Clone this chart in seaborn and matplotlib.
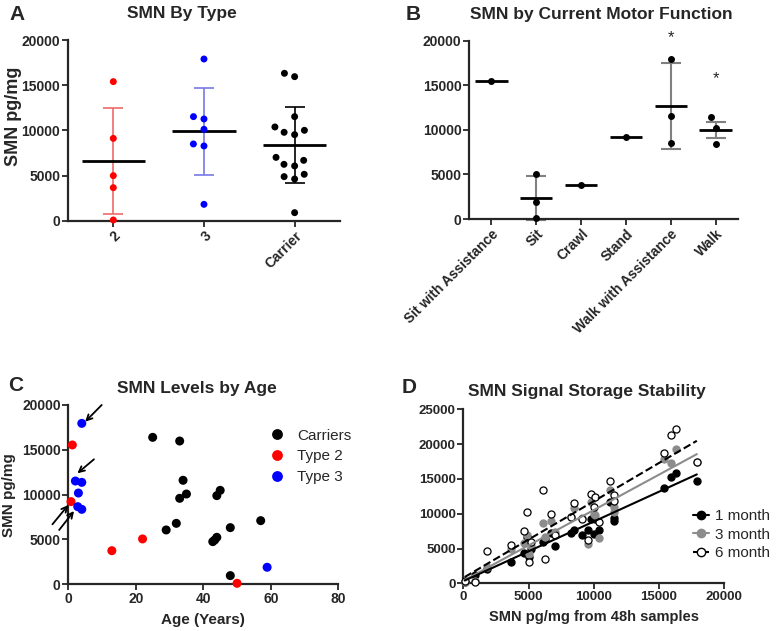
import matplotlib
matplotlib.use('Agg')
import matplotlib.pyplot as plt
import seaborn as sns
import pandas as pd
import numpy as np
from matplotlib.lines import Line2D
from matplotlib.collections import PathCollection

sns.set_style('ticks')
plt.rcParams['font.family'] = ['Liberation Sans', 'DejaVu Sans']
plt.rcParams['font.weight'] = 'bold'
plt.rcParams['axes.labelweight'] = 'bold'

# A: SMN by type
type_labels = ['2', '3', 'Carrier']
type2_smn = [15400, 9130, 5010, 3680, 110]
type3_smn = [17900, 11530, 11270, 10130, 8510, 8290, 1840]
carrier_smn = [16320, 15950, 11530, 10390, 9800, 9540, 10020, 7030, 6700,
               6260, 6080, 4900, 4640, 5160, 920]
type_colors = ['#ff0000', '#0000ff', '#000000']
type_err_colors = ['#ee6a6a', '#7878e8', '#000000']

# B: SMN by current motor function
motor_labels = ['Sit with Assistance', 'Sit', 'Crawl', 'Stand',
                'Walk with Assistance', 'Walk']
motor_smn = [[15500], [5050, 1900, 110], [3780], [9200],
             [17980, 11590, 8560], [11400, 10170, 8410]]
motor_err_kind = ['sd', 'sd', 'sd', 'sd', 'sd', 'sem']
star_groups = ['Walk with Assistance', 'Walk']
star_y = [20400, 15800]

# C: SMN levels by age
carrier_age = [25, 33, 34, 35, 33, 44, 45, 57, 32, 29, 48, 42.8, 44, 43.4, 48]
carrier_age_smn = [16390, 15980, 11600, 10070, 9590, 9890, 10480, 7100, 6800,
                   6060, 6320, 4760, 5240, 4950, 970]
type2_age = [1.2, 0.8, 12.9, 22.0, 50.0]
type2_age_smn = [15540, 9220, 3750, 5060, 110]
type3_age = [4.0, 2.1, 4.0, 3.0, 2.8, 4.0, 58.9]
type3_age_smn = [17950, 11520, 11370, 10180, 8660, 8360, 1900]
arrow_tails = [(9.9, 20000), (7.6, 13940), (-4.7, 6690), (-2.7, 6060)]
arrow_tips = [(5.0, 18130), (2.7, 12380), (0.0, 8840), (1.7, 8170)]

# D: storage stability
x48 = [110, 920, 1840, 3680, 4640, 4900, 5010, 5160, 6080, 6260, 6700, 7030,
       8290, 8510, 9130, 9540, 9800, 10020, 10130, 10390, 11270, 11530, 11530,
       15400, 15950, 16320, 17900]
m1 = [150, 1200, 2010, 3110, 4310, 6700, 3830, 4990, 6000, 6300, 7200, 5400,
      7200, 7700, 7000, 7600, 9300, 7100, 9300, 7600, 11700, 9400, 9000,
      13650, 15320, 15900, 14700]
m3 = [250, 400, 2300, 5000, 5800, 6900, 4200, 5300, 8700, 6600, 8900, 7300,
      9500, 10800, 9430, 5650, 11730, 10000, 9800, 6460, 13400, 11000, 10300,
      17810, 17340, 19250, 17400]
m6 = [300, 240, 4690, 5510, 7520, 10300, 3110, 6000, 13400, 3450, 9900, 7000,
      9500, 11500, 9300, 6230, 12830, 11000, 12450, 8860, 14750, 12690, 11800,
      18770, 21310, 22120, 17480]
month_labels = ['1 month', '3 month', '6 month']


def style(ax, size=10):
    sns.despine(ax=ax)
    for s in ['left', 'bottom']:
        ax.spines[s].set_linewidth(1.6)
    ax.tick_params(width=1.3, length=4, pad=1.5, labelsize=size)


def freeze_swarm(ax, dot):
    # keep the swarm layout computed with the wider spacing, draw smaller dots
    for coll in ax.collections:
        if 'draw' in coll.__dict__:
            del coll.draw
        if isinstance(coll, PathCollection):
            coll.set_sizes([dot ** 2])


fig = plt.figure(figsize=(7.76, 6.31), dpi=100)
axA = fig.add_axes([0.0876, 0.6498, 0.3505, 0.2868])
axB = fig.add_axes([0.6044, 0.6529, 0.3466, 0.2826])
axC = fig.add_axes([0.088, 0.074, 0.348, 0.2842])
axD = fig.add_axes([0.597, 0.0756, 0.3363, 0.2757])

# ---- A
dfA = pd.DataFrame({'group': ['2'] * len(type2_smn) + ['3'] * len(type3_smn)
                    + ['Carrier'] * len(carrier_smn),
                    'smn': type2_smn + type3_smn + carrier_smn})
sns.swarmplot(data=dfA, x='group', y='smn', hue='group', order=type_labels,
              palette=type_colors, size=7.4, legend=False, ax=axA,
              clip_on=False, zorder=4)
for i, vals in enumerate([type2_smn, type3_smn, carrier_smn]):
    m, sd = np.mean(vals), np.std(vals, ddof=1)
    axA.errorbar(i, m, yerr=sd, color=type_err_colors[i], capsize=7,
                 lw=1.2, capthick=1.2, zorder=2)
    axA.hlines(m, i - 0.35, i + 0.35, color='black', lw=2, zorder=3)
axA.set_xlim(-0.5, 2.5)
axA.set_ylim(0, 20000)
axA.set_yticks(range(0, 20001, 5000))
axA.set_xlabel('')
axA.set_ylabel('SMN pg/mg', fontsize=13)
axA.yaxis.set_label_coords(-0.17, 0.576)
style(axA)
plt.setp(axA.get_xticklabels(), rotation=45, ha='right', rotation_mode='anchor')

# ---- B
dfB = pd.DataFrame({'group': [g for g, v in zip(motor_labels, motor_smn) for _ in v],
                    'smn': [x for v in motor_smn for x in v]})
sns.swarmplot(data=dfB, x='group', y='smn', order=motor_labels, color='black',
              size=8.6, ax=axB, clip_on=False, zorder=4)
for i, vals in enumerate(motor_smn):
    m = np.mean(vals)
    if len(vals) > 1:
        err = np.std(vals, ddof=1)
        if motor_err_kind[i] == 'sem':
            err = err / np.sqrt(len(vals))
        axB.errorbar(i, m, yerr=err, color='#808080', capsize=7, lw=1.5,
                     capthick=1.5, zorder=2, clip_on=False)
    axB.hlines(m, i - 0.36, i + 0.36, color='black', lw=2, zorder=3)
for g, y in zip(star_groups, star_y):
    axB.text(motor_labels.index(g), y, '*', ha='center', va='center',
             fontsize=12, fontweight='normal', clip_on=False)
axB.set_xlim(-0.5, 5.5)
axB.set_ylim(0, 20000)
axB.set_yticks(range(0, 20001, 5000))
axB.set_xlabel('')
axB.set_ylabel('')
style(axB)
plt.setp(axB.get_xticklabels(), rotation=45, ha='right', rotation_mode='anchor')

# ---- C
dfC = pd.DataFrame({
    'age': carrier_age + type2_age + type3_age,
    'smn': carrier_age_smn + type2_age_smn + type3_age_smn,
    'group': ['Carriers'] * len(carrier_age) + ['Type 2'] * len(type2_age)
             + ['Type 3'] * len(type3_age)})
sns.scatterplot(data=dfC, x='age', y='smn', hue='group',
                hue_order=['Carriers', 'Type 2', 'Type 3'],
                palette=['#000000', '#ff0000', '#0000ff'], s=42,
                edgecolor='none', ax=axC, clip_on=False, zorder=4)
for tail, tip in zip(arrow_tails, arrow_tips):
    axC.annotate('', xy=tip, xytext=tail, annotation_clip=False,
                 arrowprops=dict(arrowstyle='->', color='black', lw=1.3,
                                 shrinkA=0, shrinkB=0))
axC.legend(frameon=False, loc='upper left', bbox_to_anchor=(0.665, 0.945),
           prop={'weight': 'normal', 'size': 11}, handletextpad=0.3,
           labelspacing=0.45, markerscale=1.2)
axC.set_xlim(0, 80)
axC.set_ylim(0, 20000)
axC.set_xticks(range(0, 81, 20))
axC.set_yticks(range(0, 20001, 5000))
axC.set_xlabel('Age (Years)', fontsize=11, labelpad=5)
axC.set_ylabel('SMN pg/mg', fontsize=11)
style(axC)

# ---- D
series = [m1, m3, m6]
face = ['black', '#8c8c8c', 'white']
edge = ['black', '#8c8c8c', 'black']
line_col = ['black', '#8c8c8c', 'black']
line_ls = ['-', '-', '--']
for k in [1, 0, 2]:
    sns.regplot(x=np.array(x48), y=np.array(series[k]), ci=None, ax=axD,
                scatter_kws=dict(s=26, color=edge[k], facecolor=face[k],
                                 linewidths=0.9, alpha=1, clip_on=False,
                                 zorder=3 + k),
                line_kws=dict(color=line_col[k], lw=1.5, ls=line_ls[k],
                              zorder=6))
handles = [Line2D([0], [0], color=line_col[k], ls=line_ls[k], lw=1.5,
                  marker='o', ms=6, mfc=face[k], mec=edge[k]) for k in range(3)]
axD.legend(handles, month_labels, frameon=False, loc='upper left',
           bbox_to_anchor=(0.826, 0.505), prop={'weight': 'normal', 'size': 11},
           handlelength=1.1, handletextpad=0.4, labelspacing=0.3)
axD.set_xlim(0, 20000)
axD.set_ylim(0, 25000)
axD.set_xticks(range(0, 20001, 5000))
axD.set_yticks(range(0, 25001, 5000))
axD.set_xlabel('SMN pg/mg from 48h samples', fontsize=10.5, labelpad=5)
axD.set_ylabel('')
style(axD, size=9.5)

# titles and panel letters
W, H = 776, 631
for x, y, t in [(182, 13.5, 'SMN By Type'), (601, 14, 'SMN by Current Motor Function'),
                (197, 389, 'SMN Levels by Age'), (587, 391.5, 'SMN Signal Storage Stability')]:
    fig.text(x / W, 1 - y / H, t, ha='center', va='center', fontsize=12.5)
for x, y, t in [(9, 5, 'A'), (406, 5, 'B'), (8, 376, 'C'), (402, 378, 'D')]:
    fig.text(x / W, 1 - y / H, t, ha='left', va='top', fontsize=15)

fig.canvas.draw()
freeze_swarm(axA, 5.0)
freeze_swarm(axB, 5.0)
fig.savefig('out.png', dpi=100)
